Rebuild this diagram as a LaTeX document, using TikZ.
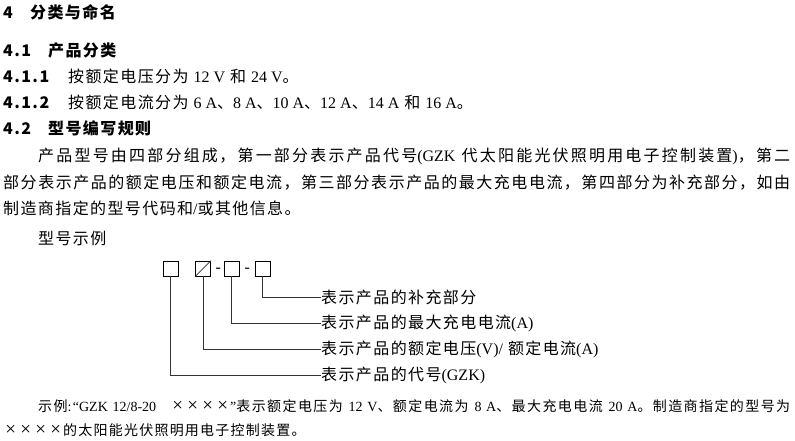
\documentclass[tikz,border=0pt]{standalone}
\usepackage{fontspec}
\setmainfont{Noto Sans CJK SC}[LetterSpace=8.75]
\newfontfamily\lat{Liberation Serif}
\XeTeXlinebreaklocale "zh"
\XeTeXlinebreakskip=0pt plus 2pt
\usepackage{tikz}
\tikzstyle{txt} = [anchor=base west, inner sep=0pt]
\tikzstyle{head} = [txt, font=\fontsize{16}{19}\selectfont\bfseries]
\tikzstyle{note} = [txt, font=\fontsize{14}{16}\selectfont]
\tikzstyle{cell} = [rectangle, draw=black, line width=0.7pt, minimum size=15pt, inner sep=0pt]
\tikzstyle{explain} = [anchor=west, inner sep=0pt]
\tikzstyle{leader} = [line width=0.7pt, draw=black!80]
\newcommand{\xs}{\makebox[15pt]{\fontsize{19}{19}\selectfont\lat ×}}
\newcommand{\fillline}[2]{\parbox[b]{#1}{\noindent\parfillskip=0pt\relax #2}}

\begin{document}
\begin{tikzpicture}[x=1pt, y=-1pt, font=\fontsize{16}{19}\selectfont]
\useasboundingbox (0,0) rectangle (795,440);

% headings
\node (n4) [head] at (3,18) {4};
\node (h4) [head] at (30,18) {分类与命名};
\node (n41) [head] at (3,56) {4.1};
\node (h41) [head] at (48,56) {产品分类};
\node (n411) [head] at (3,82) {4.1.1};
\node (t411) [txt] at (68,82) {按额定电压分为 {\lat 12 V} 和 {\lat 24 V}。};
\node (n412) [head] at (3,108) {4.1.2};
\node (t412) [txt] at (68,108) {按额定电流分为 {\lat 6 A}、{\lat 8 A}、{\lat 10 A}、{\lat 12 A}、{\lat 14 A} 和 {\lat 16 A}。};
\node (n42) [head] at (3,134) {4.2};
\node (h42) [head] at (48,134) {型号编写规则};

% paragraph
\node (p1) [txt] at (38,161) {\fillline{752pt}{产品型号由四部分组成，第一部分表示产品代号{\lat (GZK }代太阳能光伏照明用电子控制装置{\lat )}，第二}};
\node (p2) [txt] at (3,188) {\fillline{787pt}{部分表示产品的额定电压和额定电流，第三部分表示产品的最大充电电流，第四部分为补充部分，如由}};
\node (p3) [txt] at (3,214) {制造商指定的型号代码和{\lat /}或其他信息。};
\node (ex) [txt] at (38,244) {型号示例};

% model code boxes
\node (bA) [cell] at (170.5,268.5) {};
\node (bB) [cell] at (203,268.5) {};
\draw [leader] (bB.south west) -- (bB.north east);
\node (d1) [txt] at (215.5,272.5) {\lat -};
\node (bC) [cell] at (231.5,268.5) {};
\node (d2) [txt] at (244.5,272.5) {\lat -};
\node (bD) [cell] at (262.5,268.5) {};

\node (lD) [explain] at (321,297) {表示产品的补充部分};
\node (lC) [explain] at (321,323) {表示产品的最大充电电流{\lat (A)}};
\node (lB) [explain] at (321,349) {表示产品的额定电压{\lat (V)/} 额定电流{\lat (A)}};
\node (lA) [explain] at (321,375) {表示产品的代号{\lat (GZK)}};

\draw [leader] (bD.south) |- (lD.west);
\draw [leader] (bC.south) |- (lC.west);
\draw [leader] (bB.south) |- (lB.west);
\draw [leader] (bA.south) |- (lA.west);

% example note
\node (e1) [note] at (38,411) {\fillline{752pt}{示例{\lat :“GZK 12/8-20\quad}\xs\xs\xs\xs{\lat ”}表示额定电压为 {\lat 12 V}、额定电流为 {\lat 8 A}、最大充电电流 {\lat 20 A}。制造商指定的型号为}};
\node (e2) [note] at (3,435) {\xs\xs\xs\xs 的太阳能光伏照明用电子控制装置。};

\end{tikzpicture}
\end{document}
